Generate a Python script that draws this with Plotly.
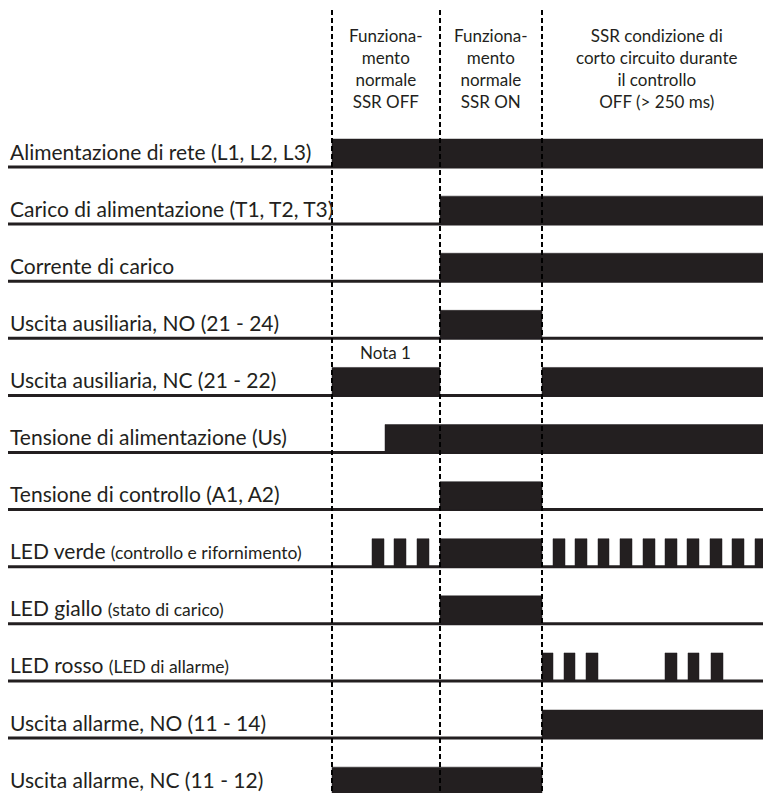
import plotly.graph_objects as go

# ---- data (time axis in arbitrary units; 0 = first phase boundary) ----
phase_bounds = [0, 108, 210]
t_end = 439
t_start_line = -324

row_labels = [
    "Alimentazione di rete (L1, L2, L3)",
    "Carico di alimentazione (T1, T2, T3)",
    "Corrente di carico",
    "Uscita ausiliaria, NO (21 - 24)",
    "Uscita ausiliaria, NC (21 - 22)",
    "Tensione di alimentazione (Us)",
    "Tensione di controllo (A1, A2)",
    "LED verde",
    "LED giallo",
    "LED rosso",
    "Uscita allarme, NO (11 - 14)",
    "Uscita allarme, NC (11 - 12)",
]
row_sublabels = ["", "", "", "", "", "", "",
                 "(controllo e rifornimento)", "(stato di carico)", "(LED di allarme)", "", ""]

on_alimentazione_rete = [(0, 439)]
on_carico_alimentazione = [(108, 439)]
on_corrente_carico = [(108, 439)]
on_aux_no = [(108, 210)]
on_aux_nc = [(0, 108), (210, 439)]
on_tensione_alim = [(53, 439)]
on_tensione_ctrl = [(108, 210)]
on_led_verde = [(40, 52), (62, 74), (85, 97), (108, 210),
                (221, 233), (243, 255), (266, 277), (288, 300), (311, 323),
                (333, 345), (355, 367), (378, 390), (400, 412), (423, 434)]
on_led_giallo = [(108, 210)]
on_led_rosso = [(210, 221), (232, 243), (254, 266), (333, 345), (356, 367), (379, 391)]
on_allarme_no = [(210, 439)]
on_allarme_nc = [(0, 210)]

signals = [on_alimentazione_rete, on_carico_alimentazione, on_corrente_carico,
           on_aux_no, on_aux_nc, on_tensione_alim, on_tensione_ctrl,
           on_led_verde, on_led_giallo, on_led_rosso, on_allarme_no, on_allarme_nc]

phase_titles = [
    "Funziona-<br>mento<br>normale<br>SSR OFF",
    "Funziona-<br>mento<br>normale<br>SSR ON",
    "SSR condizione di<br>corto circuito durante<br>il controllo<br>OFF (> 250 ms)",
]
phase_centers = [54, 159, 325]
note_text = "Nota 1"
note_pos = (53, 3.24)

# ---- styling ----
INK = "#231f20"
BAR_H = 0.49
FONT = "Lato"

fig = go.Figure()

# baselines
for i in range(len(row_labels)):
    fig.add_trace(go.Scatter(x=[t_start_line, t_end], y=[i, i], mode="lines",
                             line=dict(color=INK, width=3), hoverinfo="skip",
                             showlegend=False))

# on-state blocks
for i, intervals in enumerate(signals):
    xs, ys = [], []
    for s, e in intervals:
        xs += [s, e, e, s, s, None]
        ys += [i, i, i - BAR_H, i - BAR_H, i, None]
    fig.add_trace(go.Scatter(x=xs, y=ys, mode="lines", fill="toself",
                             fillcolor=INK, line=dict(color=INK, width=0.5),
                             hoverinfo="skip", showlegend=False))

# phase boundaries (dashed)
for b in phase_bounds:
    fig.add_shape(type="line", x0=b, x1=b, y0=-2.75, y1=11.2, xref="x", yref="y",
                  line=dict(color="black", width=2, dash="5px,3px"), layer="above")

# row labels
for i, (lab, sub) in enumerate(zip(row_labels, row_sublabels)):
    txt = lab
    if sub:
        txt += ' <span style="font-size:17.5px">' + sub + '</span>'
    fig.add_annotation(x=t_start_line, y=i - 0.28, xref="x", yref="y", text=txt,
                       showarrow=False, xanchor="left", yanchor="middle",
                       font=dict(family=FONT, size=21, color=INK))

# phase headers
for c, t in zip(phase_centers, phase_titles):
    fig.add_annotation(x=c, y=-1.72, xref="x", yref="y", text=t, showarrow=False,
                       xanchor="center", yanchor="middle", align="center",
                       font=dict(family=FONT, size=17, color=INK))

fig.add_annotation(x=note_pos[0], y=note_pos[1], xref="x", yref="y", text=note_text,
                   showarrow=False, xanchor="center", yanchor="middle",
                   font=dict(family=FONT, size=17, color=INK))

fig.update_xaxes(range=[-324, 439], visible=False, fixedrange=True)
fig.update_yaxes(range=[10.963, -2.785], visible=False, fixedrange=True)
fig.update_layout(width=763, height=785, margin=dict(l=0, r=0, t=0, b=0),
                  paper_bgcolor="white", plot_bgcolor="white", hovermode=False)

fig.write_html("out.html")
